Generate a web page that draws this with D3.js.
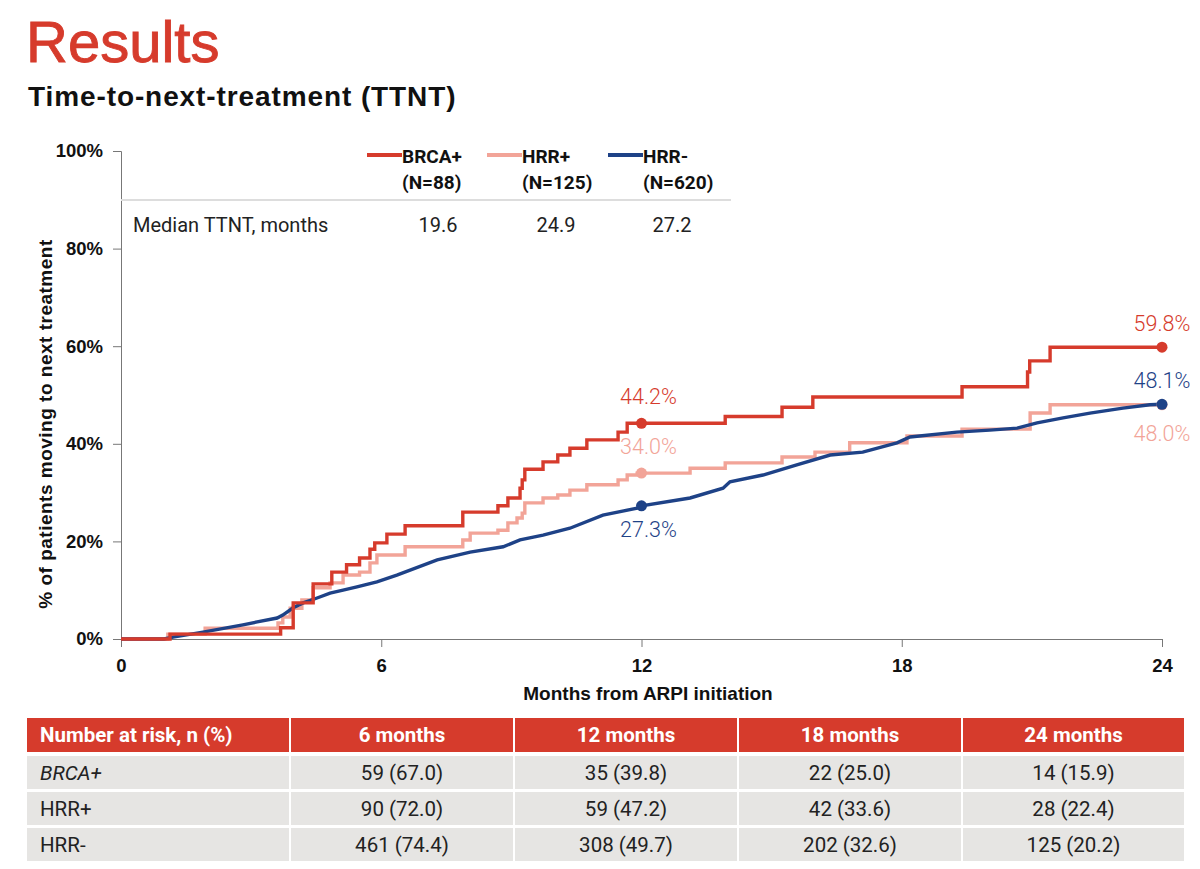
<!DOCTYPE html>
<html>
<head>
<meta charset="utf-8">
<script src="https://cdn.jsdelivr.net/npm/d3@7"></script>
<style>
  body { margin: 0; background: #fff; }
  text { font-family: Roboto, "Liberation Sans", sans-serif; }
</style>
</head>
<body>
<svg id="chart" width="1200" height="869"></svg>
<script>
// Cumulative % moving to next treatment (month, percent)
var brcaPos = [[0,0],[1.13,1.0],[3.67,1.0],[3.68,2.3],[3.97,7.4],[4.43,11.3],[4.86,13.7],[5.2,15.2],[5.5,16.6],
  [5.74,18.4],[5.85,19.7],[6.13,21.5],[6.55,23.2],[7.88,26.0],[8.69,27.3],[8.92,28.9],[9.2,30.9],[9.25,32.6],
  [9.31,34.8],[9.73,36.3],[10.07,37.7],[10.35,39.1],[10.74,40.8],[11.46,42.4],[11.67,44.2],[13.93,45.6],
  [15.24,47.5],[15.95,49.6],[19.39,51.7],[20.9,54.7],[20.95,57.0],[21.42,59.8],[24,59.8]];
var hrrPos = [[0,0],[1.08,1.0],[1.94,2.2],[3.62,3.3],[3.73,4.5],[3.9,6.3],[4.17,8.0],[4.43,10.5],[4.82,11.5],
  [5.12,13.1],[5.5,13.7],[5.74,15.6],[5.9,17.2],[6.55,18.9],[7.88,20.3],[8.05,21.7],[8.69,22.3],[8.92,23.8],
  [9.13,24.8],[9.25,25.8],[9.31,27.9],[9.73,28.9],[10.07,29.5],[10.35,30.5],[10.74,31.6],[11.46,32.6],
  [11.67,33.6],[11.9,34.0],[13.12,35.0],[13.93,36.1],[15.24,37.3],[16.0,38.3],[16.8,40.2],[18.12,41.6],
  [19.39,43.0],[20.96,46.3],[21.42,48.0],[24,48.0]];
var hrrNeg = [[0,0],[0.99,0],[1.2,0.4],[1.89,1.4],[2.81,2.9],[3.14,3.5],[3.6,4.3],[3.73,4.9],[3.97,6.4],
  [4.2,7.4],[4.52,8.4],[4.82,9.4],[5.12,10.0],[5.44,10.7],[5.9,11.7],[6.36,13.1],[7.29,16.2],[8.05,17.8],
  [8.81,18.9],[9.2,20.3],[9.73,21.3],[10.35,22.7],[11.11,25.4],[11.9,26.8],[12,27.3],[13.12,28.9],
  [13.88,30.9],[14.04,32.2],[14.8,33.6],[15.58,35.7],[16.35,37.7],[17.1,38.3],[17.89,40.2],[18.19,41.4],
  [19.27,42.4],[20.03,42.8],[20.66,43.2],[21.12,44.3],[21.72,45.3],[22.34,46.3],[23.1,47.3],[23.72,48.0],[24,48.1]];

var seriesNames = ["BRCA+", "HRR+", "HRR-"];
var seriesN = ["(N=88)", "(N=125)", "(N=620)"];
var medianTTNT = ["19.6", "24.9", "27.2"];
var milestones = [
  [12, 44.2, "44.2%"], [12, 34.0, "34.0%"], [12, 27.3, "27.3%"],
  [24, 59.8, "59.8%"], [24, 48.0, "48.0%"], [24, 48.1, "48.1%"]
];
var milestoneSeries = [0, 1, 2, 0, 1, 2];

var xTicks = [0, 6, 12, 18, 24];
var yTicks = [0, 20, 40, 60, 80, 100];

var riskHeader = ["Number at risk, n (%)", "6 months", "12 months", "18 months", "24 months"];
var riskRows = ["BRCA+", "HRR+", "HRR-"];
var riskBRCA = ["59 (67.0)", "35 (39.8)", "22 (25.0)", "14 (15.9)"];
var riskHRRpos = ["90 (72.0)", "59 (47.2)", "42 (33.6)", "28 (22.4)"];
var riskHRRneg = ["461 (74.4)", "308 (49.7)", "202 (32.6)", "125 (20.2)"];

var colors = ["#d63b2c", "#f2a498", "#1e4287"];
var RED = "#d63b2c";
var LIB = "'Liberation Sans', sans-serif";

var svg = d3.select("#chart");

// titles
svg.append("text").attr("x", 26).attr("y", 62).text("Results")
  .attr("fill", RED).attr("stroke", RED).attr("stroke-width", 0.9)
  .style("font-size", "58px").style("font-family", LIB);
svg.append("text").attr("x", 28).attr("y", 106).text("Time-to-next-treatment (TTNT)")
  .attr("fill", "#111").style("font-size", "28px").style("font-weight", "bold")
  .style("letter-spacing", "0.9px").style("font-family", LIB);

var x = d3.scaleLinear().domain([0, 24]).range([121, 1162]);
var y = d3.scaleLinear().domain([0, 100]).range([639, 151]);

// y axis
var yAxis = svg.append("g").attr("transform", "translate(121,0)")
  .call(d3.axisLeft(y).tickValues(yTicks).tickSize(8).tickPadding(10).tickFormat(function(d) { return d + "%"; }));
// x axis
var xAxis = svg.append("g").attr("transform", "translate(0,639)")
  .call(d3.axisBottom(x).tickValues(xTicks).tickSize(8).tickPadding(12));
[yAxis, xAxis].forEach(function(g) {
  g.select(".domain").attr("stroke", "#777");
  g.selectAll(".tick line").attr("stroke", "#777");
  g.selectAll(".tick text").attr("fill", "#111").style("font-size", "18.5px").style("font-weight", "bold")
    .style("font-family", LIB);
});

svg.append("text").attr("x", 648).attr("y", 700).attr("text-anchor", "middle")
  .text("Months from ARPI initiation").style("font-size", "19px").style("font-weight", "bold")
  .style("font-family", LIB).attr("fill", "#111");
svg.append("text").attr("transform", "translate(52,424) rotate(-90)").attr("text-anchor", "middle")
  .text("% of patients moving to next treatment").style("font-size", "19px").style("font-weight", "bold")
  .style("letter-spacing", "0.5px").style("font-family", LIB).attr("fill", "#111");

// inner legend / median table
svg.append("line").attr("x1", 121).attr("x2", 731).attr("y1", 200).attr("y2", 200)
  .attr("stroke", "#ddd").attr("stroke-width", 2);
var legX = [367, 487, 608];
seriesNames.forEach(function(name, i) {
  svg.append("line").attr("x1", legX[i]).attr("x2", legX[i] + 35).attr("y1", 155).attr("y2", 155)
    .attr("stroke", colors[i]).attr("stroke-width", 4);
  svg.append("text").attr("x", legX[i] + 35).attr("y", 163).text(name)
    .style("font-size", "19px").style("font-weight", "bold").attr("fill", "#111");
  svg.append("text").attr("x", legX[i] + 35).attr("y", 189).text(seriesN[i])
    .style("font-size", "19px").style("font-weight", "bold").attr("fill", "#111");
});
svg.append("text").attr("x", 133).attr("y", 232).text("Median TTNT, months")
  .style("font-size", "20px").attr("fill", "#222");
var medX = [438, 556, 672];
medianTTNT.forEach(function(v, i) {
  svg.append("text").attr("x", medX[i]).attr("y", 232).attr("text-anchor", "middle").text(v)
    .style("font-size", "20px").attr("fill", "#222");
});

// curves
var stepLine = d3.line().x(function(d) { return x(d[0]); }).y(function(d) { return y(d[1]); }).curve(d3.curveStepAfter);
var smoothLine = d3.line().x(function(d) { return x(d[0]); }).y(function(d) { return y(d[1]); });
var curves = [[hrrPos, stepLine, 1], [hrrNeg, smoothLine, 2], [brcaPos, stepLine, 0]];
curves.forEach(function(c) {
  svg.append("path").attr("d", c[1](c[0])).attr("fill", "none")
    .attr("stroke", colors[c[2]]).attr("stroke-width", 3.4);
});

// milestone dots and labels
var labelDy = [-19, -19, 31, -16, 36, -16];
milestones.forEach(function(m, i) {
  var col = colors[milestoneSeries[i]];
  svg.append("circle").attr("cx", x(m[0])).attr("cy", y(m[1])).attr("r", 5.5).attr("fill", col);
  svg.append("text").attr("x", x(m[0]) + (m[0] === 24 ? 0 : 7)).attr("y", y(m[1]) + labelDy[i])
    .attr("text-anchor", "middle").text(m[2]).attr("fill", col)
    .style("font-size", "21.5px").style("font-weight", "300");
});

// number-at-risk table
var colEdges = [27, 290, 514, 738, 962, 1185];
var rowTops = [718, 756, 792, 828];
var rowH = [34, 33, 33, 33];
var tableRows = [riskHeader, [riskRows[0]].concat(riskBRCA), [riskRows[1]].concat(riskHRRpos), [riskRows[2]].concat(riskHRRneg)];
tableRows.forEach(function(row, r) {
  row.forEach(function(cell, c) {
    var x0 = colEdges[c] + (c === 0 ? 0 : 1), x1 = colEdges[c + 1] - 1;
    svg.append("rect").attr("x", x0).attr("y", rowTops[r]).attr("width", x1 - x0).attr("height", rowH[r])
      .attr("fill", r === 0 ? RED : "#e6e5e3");
    var t = svg.append("text").attr("y", rowTops[r] + rowH[r] / 2 + 7).text(cell)
      .style("font-size", "20.5px");
    if (c === 0) t.attr("x", x0 + 13);
    else t.attr("x", (x0 + x1) / 2).attr("text-anchor", "middle");
    if (r === 0) t.attr("fill", "#fff").style("font-weight", "bold");
    else t.attr("fill", "#222");
    if (r === 1 && c === 0) t.style("font-style", "italic");
  });
});
</script>
</body>
</html>
